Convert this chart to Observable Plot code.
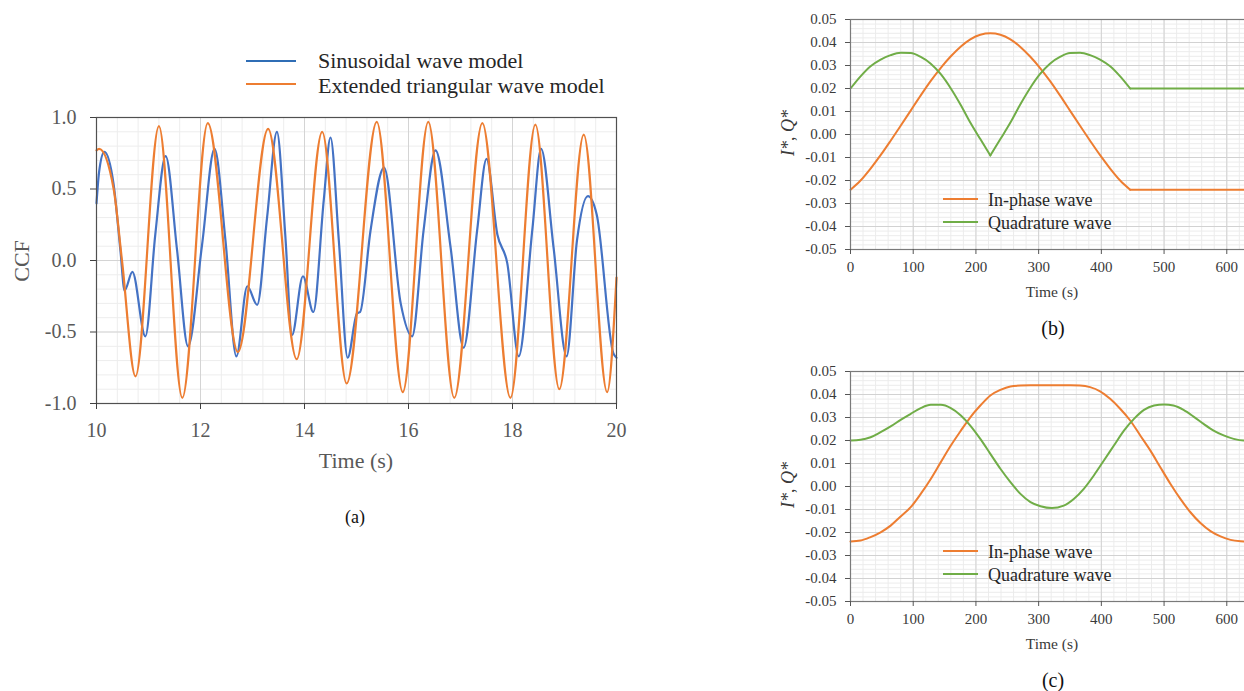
<!DOCTYPE html>
<html><head><meta charset="utf-8">
<script src="https://cdn.jsdelivr.net/npm/d3@7"></script>
<script src="https://cdn.jsdelivr.net/npm/@observablehq/plot@0.6"></script>
<style>
html,body{margin:0;padding:0;background:#fff;overflow:hidden;}
#root{position:relative;width:1244px;height:691px;overflow:hidden;font-family:"Liberation Serif","Times New Roman",serif;}
.abs{position:absolute;white-space:nowrap;line-height:1;}
.c{transform:translate(-50%,-50%);}
.sw{position:absolute;height:2px;}
svg{position:absolute;}
</style></head><body><div id="root"></div>
<script>
// ---------- Panel (a): CCF ----------
const sinTime = [10.00,10.05,10.15,10.33,10.46,10.54,10.69,10.94,11.13,11.33,11.55,11.76,12.03,12.27,12.48,12.69,12.90,13.09,13.28,13.47,13.63,13.76,13.97,14.17,14.37,14.50,14.66,14.83,15.01,15.07,15.27,15.53,15.85,16.07,16.29,16.52,16.81,17.06,17.32,17.50,17.71,17.90,18.12,18.38,18.55,18.79,19.04,19.24,19.45,19.62,19.94,20.00];
const sinCCF  = [0.40,0.62,0.76,0.53,0.07,-0.21,-0.08,-0.53,0.18,0.73,0.07,-0.60,0.11,0.78,0.14,-0.67,-0.18,-0.31,0.30,0.90,0.18,-0.52,-0.11,-0.36,0.42,0.86,0.14,-0.68,-0.37,-0.36,0.21,0.65,-0.30,-0.53,0.21,0.77,0.09,-0.61,0.21,0.71,0.18,-0.02,-0.67,0.21,0.78,0.09,-0.67,0.14,0.45,0.32,-0.65,-0.68];
const triTime = [10.00,10.05,10.33,10.49,10.75,11.20,11.65,12.14,12.72,13.30,13.85,14.34,14.81,15.39,15.89,16.38,16.88,17.42,17.96,18.44,18.90,19.37,19.82,20.00];
const triCCF  = [0.77,0.78,0.50,0.00,-0.81,0.94,-0.96,0.96,-0.64,0.92,-0.69,0.90,-0.86,0.97,-0.92,0.97,-0.96,0.96,-0.96,0.95,-0.90,0.88,-0.92,-0.12];
const aXTicks = [10,12,14,16,18,20];
const aYTicks = [-1.0,-0.5,0.0,0.5,1.0];
const aSeriesNames = ["Sinusoidal wave model","Extended triangular wave model"];

// ---------- Panel (b) ----------
const bTime    = [0,16,32,48,64,80,96,112,128,144,160,176,191,207,223,239,255,270,286,302,318,334,350,366,382,398,414,430,446,500,550,600,650,700];
const bInPhase = [-0.0240,-0.0200,-0.0148,-0.0090,-0.0027,0.0038,0.0104,0.0170,0.0233,0.0290,0.0340,0.0383,0.0414,0.0434,0.0440,0.0434,0.0414,0.0383,0.0340,0.0290,0.0233,0.0170,0.0104,0.0038,-0.0027,-0.0090,-0.0148,-0.0200,-0.0240,-0.0240,-0.0240,-0.0240,-0.0240,-0.0240];
const bQuad    = [0.0200,0.0253,0.0297,0.0326,0.0345,0.0355,0.0354,0.0337,0.0308,0.0262,0.0200,0.0127,0.0052,-0.0020,-0.0091,-0.0020,0.0052,0.0127,0.0200,0.0262,0.0308,0.0337,0.0354,0.0355,0.0345,0.0326,0.0297,0.0253,0.0200,0.0200,0.0200,0.0200,0.0200,0.0200];
const bInBreaks   = [446];
const bQuadBreaks = [223,446];

// ---------- Panel (c) ----------
const cInTime  = [0,16,32,48,64,80,96,112,128,144,160,176,191,207,223,239,255,271,287,303,319,335,351,366,382,398,414,430,446,462,478,494,510,526,542,558,574,590,606,622,640];
const cInPhase = [-0.0239,-0.0235,-0.0220,-0.0199,-0.0170,-0.0130,-0.0090,-0.0032,0.0033,0.0106,0.0178,0.0243,0.0301,0.0352,0.0396,0.0420,0.0435,0.0439,0.0440,0.0440,0.0440,0.0440,0.0440,0.0439,0.0432,0.0414,0.0381,0.0338,0.0287,0.0222,0.0157,0.0084,0.0012,-0.0054,-0.0112,-0.0159,-0.0194,-0.0217,-0.0232,-0.0238,-0.0240];
const cQuadTime = [0,16,32,48,64,80,96,112,128,144,160,176,191,207,223,239,255,271,287,303,321,340,356,372,388,404,420,436,452,468,484,500,515,531,547,563,579,595,611,627,640];
const cQuad     = [0.0200,0.0203,0.0214,0.0236,0.0261,0.0290,0.0316,0.0341,0.0355,0.0355,0.0341,0.0309,0.0265,0.0207,0.0142,0.0077,0.0019,-0.0032,-0.0068,-0.0086,-0.0094,-0.0083,-0.0054,-0.0010,0.0048,0.0113,0.0178,0.0243,0.0294,0.0333,0.0352,0.0357,0.0352,0.0333,0.0304,0.0272,0.0243,0.0222,0.0207,0.0200,0.0200];

const bcXTicks = [0,100,200,300,400,500,600];
const bcXGrid  = [0,100,200,300,400,500,600,700];
const bcYTicks = [-0.05,-0.04,-0.03,-0.02,-0.01,0.00,0.01,0.02,0.03,0.04,0.05];
const bcSeriesNames = ["In-phase wave","Quadrature wave"];

const BLUE = "#4472C4", ORANGE = "#ED7D31", GREEN = "#70AD47";
const root = document.getElementById("root");

function rows(ts, vs, breaks = []) {
  const out = [];
  ts.forEach((t, i) => {
    let seg = breaks.filter(b => t > b).length;
    out.push({t, v: vs[i], seg});
    if (breaks.includes(t)) out.push({t, v: vs[i], seg: seg + 1});
  });
  return out;
}
function place(svg, left, top) {
  svg.style.left = left + "px"; svg.style.top = top + "px";
  root.appendChild(svg);
}
function text(html, x, y, style, center = true) {
  const d = document.createElement("div");
  d.className = "abs" + (center ? " c" : "");
  d.innerHTML = html;
  d.style.left = x + "px"; d.style.top = y + "px";
  Object.assign(d.style, style);
  root.appendChild(d);
  return d;
}
function swatch(x1, x2, y, color, h = 2) {
  const d = document.createElement("div");
  d.className = "sw";
  Object.assign(d.style, {left: x1 + "px", width: (x2 - x1) + "px", top: (y - h / 2) + "px", height: h + "px", background: color});
  root.appendChild(d);
}

// ---------- draw (a) ----------
{
  const svg = Plot.plot({
    width: 640, height: 480,
    marginLeft: 96, marginRight: 24, marginTop: 117, marginBottom: 77,
    x: {domain: [10, 20]},
    y: {domain: [-1, 1]},
    style: {fontFamily: "Liberation Serif, serif", fontSize: "20px", color: "#595959", background: "transparent", overflow: "visible"},
    marks: [
      Plot.gridX(d3.range(10, 20.01, 0.4), {stroke: "#ededed", strokeOpacity: 1}),
      Plot.gridY(d3.range(-1, 1.001, 0.1), {stroke: "#ededed", strokeOpacity: 1}),
      Plot.gridX(aXTicks, {stroke: "#d4d4d4", strokeOpacity: 1}),
      Plot.gridY(aYTicks, {stroke: "#d4d4d4", strokeOpacity: 1}),
      Plot.line(rows(sinTime, sinCCF), {x: "t", y: "v", stroke: BLUE, strokeWidth: 2.2, curve: "monotone-x"}),
      Plot.line(rows(triTime, triCCF), {x: "t", y: "v", stroke: ORANGE, strokeWidth: 2.2, curve: "monotone-x"}),
      Plot.frame({stroke: "#505050", strokeWidth: 1.2}),
      Plot.axisX(aXTicks, {tickSize: 6, tickPadding: 13, label: null, tickFormat: d => String(d), stroke: "#404040"}),
      Plot.axisY(aYTicks, {tickSize: 6, tickPadding: 14, label: null, tickFormat: d => d.toFixed(1), stroke: "#404040"})
    ]
  });
  place(svg, 0, 0);
  swatch(246, 296, 61, "#2F6DB5", 2.5);
  swatch(246, 296, 84, ORANGE, 2.5);
  const ls = {fontSize: "22px", color: "#262626"};
  text(aSeriesNames[0], 318, 61, Object.assign({transform: "translateY(-50%)"}, ls), false);
  text(aSeriesNames[1], 318, 86, Object.assign({transform: "translateY(-50%)"}, ls), false);
  text("CCF", 22, 261, {fontSize: "22px", color: "#595959", transform: "translate(-50%,-50%) rotate(-90deg)"}, false);
  text("Time (s)", 356, 461, {fontSize: "22px", color: "#595959"});
  text("(a)", 355, 517, {fontSize: "18px", color: "#111"});
}

// ---------- draw (b), (c) ----------
function panel(top, inRows, quadRows, label) {
  const svg = Plot.plot({
    width: 560, height: 345,
    marginLeft: 90, marginRight: 31, marginTop: 19, marginBottom: 96,
    x: {domain: [0, 700]},
    y: {domain: [-0.05, 0.05]},
    style: {fontFamily: "Liberation Serif, serif", fontSize: "15px", color: "#3a3a3a", background: "transparent", overflow: "visible"},
    marks: [
      Plot.gridX(d3.range(0, 701, 20), {stroke: "#ececec", strokeOpacity: 1}),
      Plot.gridY(d3.range(-0.05, 0.0501, 0.002), {stroke: "#ececec", strokeOpacity: 1}),
      Plot.gridX(bcXGrid, {stroke: "#d2d2d2", strokeOpacity: 1}),
      Plot.gridY(bcYTicks, {stroke: "#d2d2d2", strokeOpacity: 1}),
      Plot.line(inRows, {x: "t", y: "v", z: "seg", stroke: ORANGE, strokeWidth: 2, curve: "monotone-x"}),
      Plot.line(quadRows, {x: "t", y: "v", z: "seg", stroke: GREEN, strokeWidth: 2, curve: "monotone-x"}),
      Plot.frame({stroke: "#7a7a7a", strokeWidth: 1.2}),
      Plot.axisX(bcXTicks, {tickSize: 5, tickPadding: 7, label: null, tickFormat: d => String(d), stroke: "#555"}),
      Plot.axisY(bcYTicks, {tickSize: 5, tickPadding: 9, label: null, tickFormat: d => d.toFixed(2), stroke: "#555"})
    ]
  });
  place(svg, 760, top);
  const y0 = top;
  swatch(943, 978, y0 + 199, ORANGE, 2);
  swatch(943, 978, y0 + 222, GREEN, 2);
  const ls = {fontSize: "18px", color: "#262626", transform: "translateY(-50%)"};
  text(bcSeriesNames[0], 988, y0 + 200, ls, false);
  text(bcSeriesNames[1], 988, y0 + 223, ls, false);
  text("<i>I*</i>, <i>Q*</i>", 788, y0 + 133, {fontSize: "18px", color: "#3a3a3a", transform: "translate(-50%,-50%) rotate(-90deg)"}, false);
  text("Time (s)", 1052, y0 + 292, {fontSize: "15.5px", color: "#3a3a3a"});
  text(label, 1053, y0 + 328, {fontSize: "20px", color: "#111"});
}
panel(0, rows(bTime, bInPhase, bInBreaks), rows(bTime, bQuad, bQuadBreaks), "(b)");
panel(352, rows(cInTime, cInPhase), rows(cQuadTime, cQuad), "(c)");
</script></body></html>
